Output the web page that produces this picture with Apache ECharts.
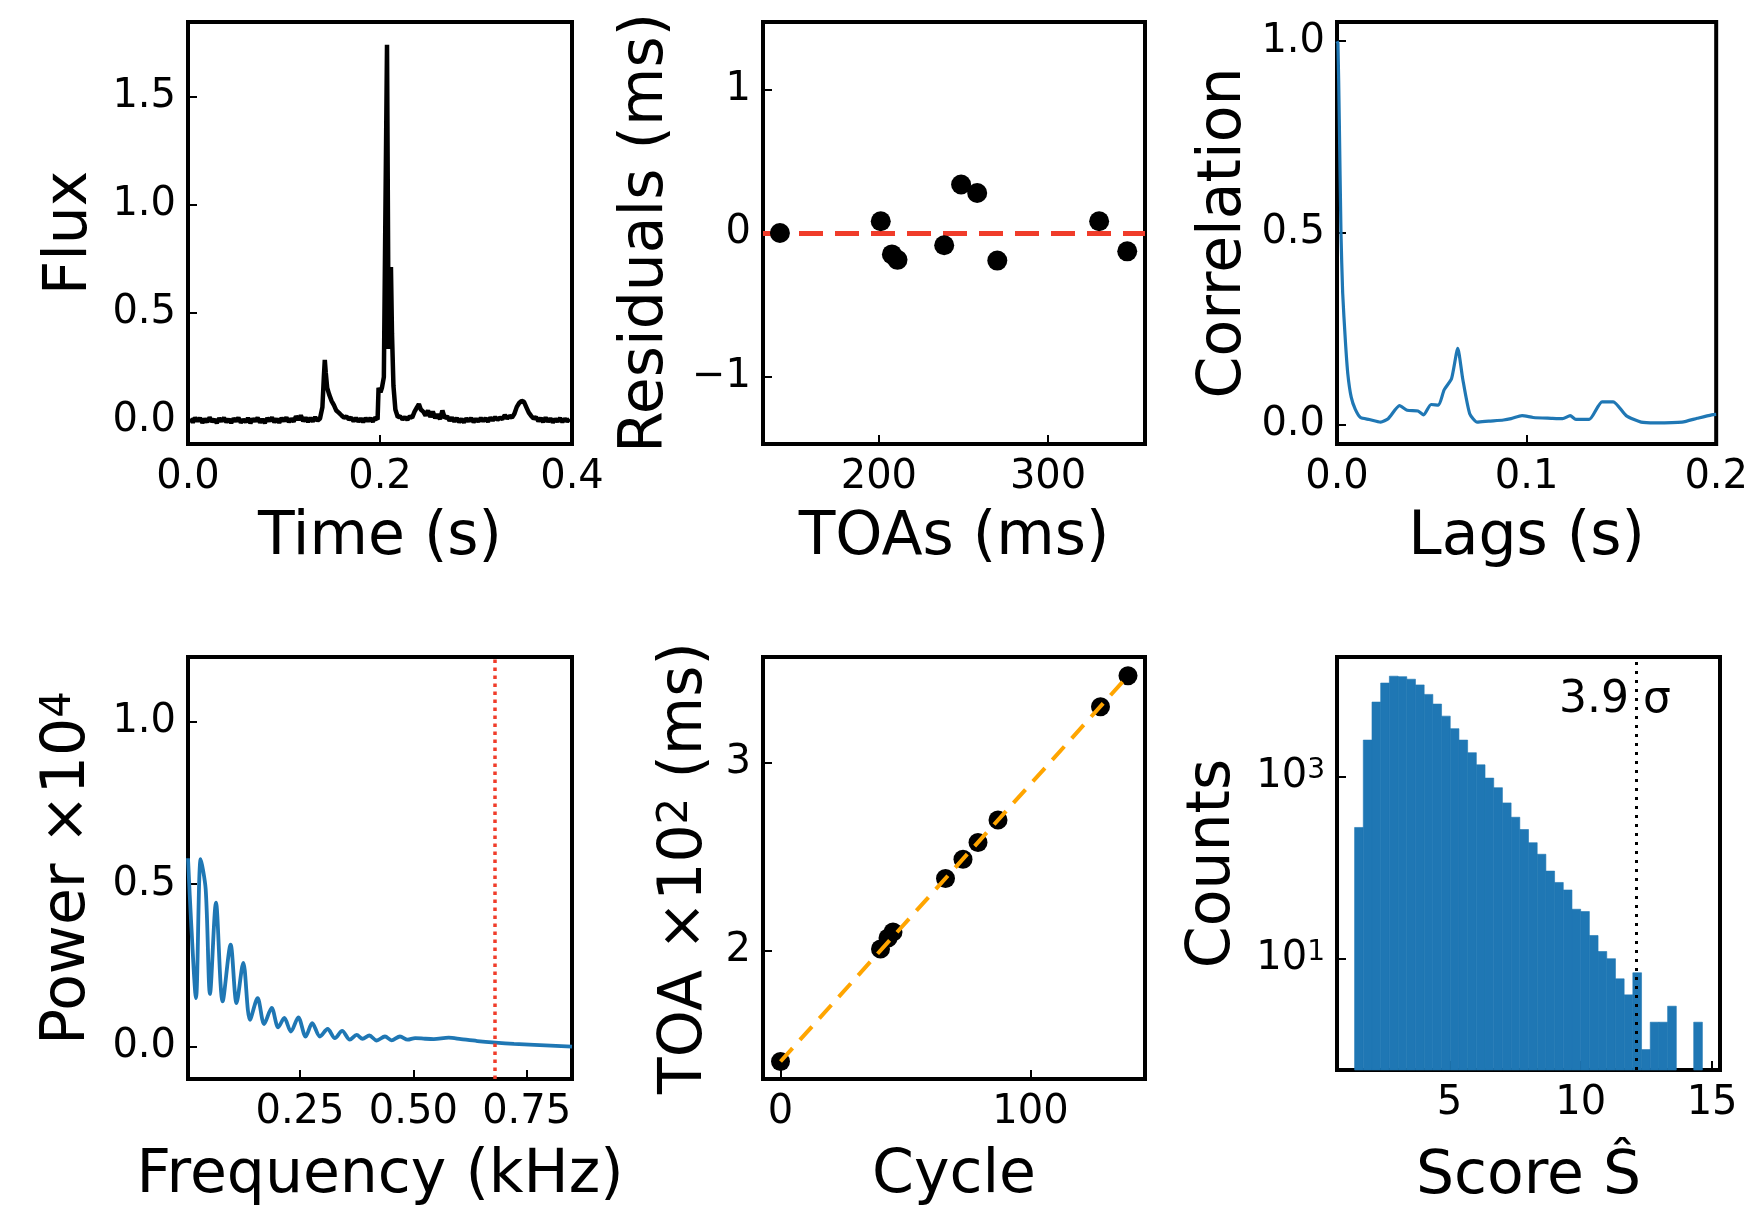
<!DOCTYPE html>
<html>
<head>
<meta charset="utf-8">
<script src="https://cdn.jsdelivr.net/npm/echarts@6/dist/echarts.min.js"></script>
<style>
  html, body { margin: 0; padding: 0; background: #fff; }
  #chart { width: 1751px; height: 1208px; }
</style>
</head>
<body>
<div id="chart"></div>
<script>
// --- burst profile (Flux vs Time) ---
var fluxTime = [0.0025, 0.005, 0.0075, 0.010, 0.0125, 0.015, 0.0175, 0.020, 0.0225, 0.025, 0.0275, 0.030, 0.0325, 0.035, 0.0375, 0.040,
  0.0425, 0.045, 0.0475, 0.050, 0.0525, 0.055, 0.0575, 0.060, 0.0625, 0.065, 0.0675, 0.070, 0.0725, 0.075, 0.0775, 0.080,
  0.0825, 0.085, 0.0875, 0.090, 0.0925, 0.095, 0.0975, 0.100, 0.1025, 0.105, 0.1075, 0.110, 0.1125, 0.115, 0.1175, 0.120,
  0.1225, 0.125, 0.1275, 0.130, 0.1325, 0.135, 0.1375, 0.1400, 0.1415, 0.1425, 0.1435, 0.1450, 0.1470, 0.1495, 0.1520, 0.1545,
  0.1570, 0.1600, 0.1625, 0.165, 0.1675, 0.170, 0.1725, 0.175, 0.1775, 0.180, 0.1825, 0.185, 0.1875, 0.190, 0.1925, 0.195,
  0.1975, 0.1985, 0.2005, 0.2020, 0.2040, 0.2055, 0.2073, 0.2090, 0.2100, 0.2114, 0.2125, 0.2140, 0.2160, 0.2185, 0.221, 0.2235,
  0.226, 0.2285, 0.231, 0.2335, 0.236, 0.2385, 0.2405, 0.2425, 0.245, 0.2475, 0.250, 0.2525, 0.255, 0.2575, 0.260, 0.2625,
  0.265, 0.2675, 0.270, 0.2725, 0.275, 0.2775, 0.280, 0.2825, 0.285, 0.2875, 0.290, 0.2925, 0.295, 0.2975, 0.300, 0.3025,
  0.305, 0.3075, 0.310, 0.3125, 0.315, 0.3175, 0.320, 0.3225, 0.325, 0.3275, 0.330, 0.3325, 0.335, 0.3375, 0.340, 0.3425,
  0.345, 0.3475, 0.350, 0.3525, 0.355, 0.3575, 0.360, 0.3625, 0.365, 0.3675, 0.370, 0.3725, 0.375, 0.3775, 0.380, 0.3825,
  0.385, 0.3875, 0.390, 0.3925, 0.395, 0.3975];
var fluxValue = [0.008, -0.010, 0.012, -0.004, 0.010, -0.012, 0.006, -0.008, 0.013, -0.006, 0.004, -0.013, 0.009, -0.005, 0.011, -0.009,
  0.005, -0.012, 0.008, -0.004, 0.012, -0.010, 0.003, -0.008, 0.010, -0.013, 0.007, -0.005, 0.011, -0.010, 0.004, -0.012,
  0.009, -0.003, 0.012, -0.009, 0.006, -0.011, 0.010, -0.004, 0.013, -0.008, 0.007, -0.006, 0.018, 0.002, 0.022, -0.004,
  0.012, -0.007, 0.010, -0.005, 0.014, -0.002, 0.008, 0.06, 0.20, 0.28, 0.22, 0.15, 0.12, 0.09, 0.07, 0.045,
  0.035, 0.022, 0.012, 0.018, 0.004, 0.012, -0.004, 0.010, -0.006, 0.008, -0.008, 0.010, -0.004, 0.009, -0.006, 0.012,
  0.004, 0.15, 0.13, 0.15, 0.20, 0.90, 1.74, 0.33, 0.45, 0.71, 0.40, 0.16, 0.05, 0.015, 0.018, 0.004,
  0.014, 0.002, 0.018, 0.012, 0.040, 0.060, 0.075, 0.050, 0.040, 0.022, 0.045, 0.015, 0.040, 0.010, 0.028, 0.005,
  0.045, 0.010, 0.018, -0.002, 0.012, -0.006, 0.010, -0.008, 0.006, -0.010, 0.008, -0.004, 0.010, -0.008, 0.006, -0.006,
  0.010, -0.004, 0.009, -0.006, 0.012, 0.000, 0.014, 0.002, 0.012, 0.006, 0.024, 0.008, 0.020, 0.012, 0.030, 0.062,
  0.080, 0.090, 0.085, 0.060, 0.035, 0.020, 0.008, 0.014, -0.004, 0.010, -0.008, 0.012, -0.006, 0.008, -0.010, 0.006,
  -0.006, 0.010, -0.008, 0.007, -0.005, 0.006];

// --- timing residuals ---
var residToa = [141.5, 201.1, 207.7, 211.0, 238.6, 248.6, 258.1, 270.0, 330.2, 346.8];
var residVal = [0.0, 0.082, -0.149, -0.187, -0.085, 0.338, 0.279, -0.192, 0.082, -0.128];

// --- autocorrelation ---
var corrLag = [0, 0.0005, 0.0012, 0.0021, 0.003, 0.0044, 0.0057, 0.0075, 0.0096, 0.0124, 0.017, 0.023, 0.027, 0.033, 0.037,
  0.0427, 0.0457, 0.0496, 0.0535, 0.0565, 0.0604, 0.0637, 0.0663, 0.070, 0.074, 0.080, 0.0878, 0.0918, 0.0976, 0.1035,
  0.113, 0.119, 0.123, 0.126, 0.133, 0.1398, 0.1457, 0.1525, 0.1604, 0.168, 0.182, 0.190, 0.1976, 0.2];
var corrVal = [1.0, 0.994, 0.797, 0.5, 0.343, 0.22, 0.133, 0.072, 0.041, 0.019, 0.014, 0.007, 0.016, 0.05, 0.038,
  0.036, 0.026, 0.053, 0.051, 0.091, 0.12, 0.199, 0.12, 0.029, 0.007, 0.0096, 0.0125, 0.016, 0.024, 0.019,
  0.017, 0.016, 0.024, 0.014, 0.014, 0.06, 0.06, 0.024, 0.007, 0.005, 0.007, 0.017, 0.026, 0.027];

// --- power spectrum ---
var powFreq = [0.003, 0.010, 0.0206, 0.031, 0.042, 0.0515, 0.0647, 0.0794, 0.097, 0.110, 0.125, 0.1397, 0.1566, 0.171, 0.1875,
  0.202, 0.2154, 0.230, 0.2463, 0.2625, 0.277, 0.294, 0.311, 0.327, 0.343, 0.360, 0.375, 0.388, 0.403, 0.419, 0.4375,
  0.452, 0.4706, 0.4875, 0.504, 0.526, 0.545, 0.578, 0.605, 0.641, 0.681, 0.722, 0.767, 0.85];
var powVal = [0.58, 0.38, 0.149, 0.577, 0.485, 0.162, 0.443, 0.139, 0.314, 0.134, 0.258, 0.082, 0.149, 0.069, 0.119,
  0.059, 0.088, 0.046, 0.090, 0.031, 0.072, 0.031, 0.054, 0.026, 0.048, 0.021, 0.036, 0.024, 0.034, 0.0186, 0.031,
  0.019, 0.031, 0.021, 0.026, 0.024, 0.023, 0.0275, 0.023, 0.017, 0.012, 0.008, 0.005, 0.0];
var powCut = 0.68;

// --- TOA vs cycle ---
var toaCycle = [0, 40, 43, 45, 66, 73, 79, 87, 128, 139];
var toaVal = [1.413, 2.010, 2.068, 2.10, 2.384, 2.486, 2.575, 2.695, 3.296, 3.46];
var fitCycle = [0, 139];
var fitToa = [1.413, 3.46];

// --- score histogram ---
var binStart = 1.39;
var binWidth = 0.331;
var scoreCounts = [278, 2545, 6670, 10800, 12850, 12700, 11900, 10300, 8100, 6340, 4670, 3400, 2545, 1850, 1360, 971,
  762, 518, 360, 264, 189, 141, 92, 69, 57, 35, 33, 18, 12, 10, 6, 4, 7, 1, 2, 2, 3, 0, 0, 2];
var sigmaScore = 12.11;

// --- tick values ---
var fluxTicksX = [0, 0.2, 0.4], fluxTicksY = [0, 0.5, 1.0, 1.5];
var residTicksX = [200, 300], residTicksY = [-1, 0, 1];
var corrTicksX = [0, 0.1, 0.2], corrTicksY = [0, 0.5, 1.0];
var powTicksX = [0.25, 0.5, 0.75], powTicksY = [0, 0.5, 1.0];
var toaTicksX = [0, 100], toaTicksY = [2, 3];
var scoreTicksX = [5, 10, 15], scoreTicksY = [10, 1000];

function zip(a, b) { return a.map(function (v, i) { return [v, b[i]]; }); }

var FONT = 'DejaVu Sans';
var BLUE = '#1f77b4';
var NAME_SIZE = 60, TICK_SIZE = 40;

// rich styles for the x10^n style superscripts
var nameRich = {
  n: { fontFamily: FONT, fontSize: NAME_SIZE, color: '#000', lineHeight: NAME_SIZE, verticalAlign: 'bottom' },
  s: { fontFamily: FONT, fontSize: 42, color: '#000', lineHeight: 42, verticalAlign: 'top', padding: [0, 0, 24, 0] }
};
var tickRich = {
  n: { fontFamily: FONT, fontSize: TICK_SIZE, color: '#000', lineHeight: TICK_SIZE, verticalAlign: 'bottom' },
  s: { fontFamily: FONT, fontSize: 28, color: '#000', lineHeight: 28, verticalAlign: 'top', padding: [0, 0, 16, 0] }
};

function fmt(d) {
  return function (v) { return Number(v).toFixed(d).replace('-', '\u2212'); };
}

function axis(grid, min, max, ticks, name, gap, labelFmt, type, margin) {
  return {
    type: type || 'value', gridIndex: grid, min: min, max: max,
    name: name, nameLocation: 'middle', nameGap: gap,
    nameTextStyle: { fontFamily: FONT, fontSize: NAME_SIZE, color: '#000', rich: nameRich },
    axisLine: { show: false, onZero: false },
    axisTick: { show: true, inside: true, length: 9, customValues: ticks,
      lineStyle: { color: '#000', width: 2 } },
    axisLabel: { show: true, fontFamily: FONT, fontSize: TICK_SIZE, color: '#000', margin: margin || 12,
      customValues: ticks, formatter: labelFmt, rich: tickRich },
    splitLine: { show: false }
  };
}
function xAxis(grid, min, max, ticks, name, gap, labelFmt) {
  return axis(grid, min, max, ticks, name, gap, labelFmt, 'value', 14);
}

var boxes = [
  [188, 22, 384], [763, 22, 382], [1337, 22, 383],
  [188, 657, 384], [763, 657, 382], [1337, 657, 383]
];
var grids = boxes.map(function (b) {
  return { left: b[0], top: b[1], width: b[2], height: 422, show: true,
    borderColor: '#000', borderWidth: 4, backgroundColor: 'transparent' };
});

var histData = scoreCounts.map(function (c, i) {
  return [binStart + i * binWidth, binStart + (i + 1) * binWidth, c];
});
var countMin = Math.pow(10, -0.225), countMax = Math.pow(10, 4.32);

var option = {
  animation: false,
  backgroundColor: '#fff',
  grid: grids,
  xAxis: [
    xAxis(0, 0, 0.4, fluxTicksX, 'Time (s)', 64, fmt(1)),
    xAxis(1, 131.5, 357.3, residTicksX, 'TOAs (ms)', 64, fmt(0)),
    xAxis(2, 0, 0.2, corrTicksX, 'Lags (s)', 64, fmt(1)),
    xAxis(3, 0.003, 0.85, powTicksX, 'Frequency (kHz)', 67, fmt(2)),
    xAxis(4, -7, 145.8, toaTicksX, 'Cycle', 67, fmt(0)),
    xAxis(5, 0.72, 15.3, scoreTicksX, 'Score \u015c', 77, fmt(0))
  ],
  yAxis: [
    axis(0, -0.11, 1.845, fluxTicksY, 'Flux', 88, fmt(1)),
    axis(1, -1.47, 1.47, residTicksY, 'Residuals (ms)', 87, fmt(0)),
    axis(2, -0.05, 1.05, corrTicksY, 'Correlation', 83, fmt(1)),
    axis(3, -0.1, 1.2, powTicksY, '{n|Power \u00d710}{s|4}', 90, fmt(1)),
    axis(4, 1.32, 3.56, toaTicksY, '{n|TOA \u00d710}{s|2}{n| (ms)}', 48, fmt(0)),
    axis(5, countMin, countMax, scoreTicksY, 'Counts', 94, function (v) {
      return '{n|10}{s|' + Math.round(Math.log10(v)) + '}';
    }, 'log')
  ],
  series: [
    {
      type: 'line', xAxisIndex: 0, yAxisIndex: 0, data: zip(fluxTime, fluxValue),
      showSymbol: false, lineStyle: { color: '#000', width: 4.5 }
    },
    {
      type: 'scatter', xAxisIndex: 1, yAxisIndex: 1, data: zip(residToa, residVal), z: 3,
      symbolSize: 20, itemStyle: { color: '#000', opacity: 1 },
      markLine: {
        silent: true, symbol: 'none', z: 1, label: { show: false },
        lineStyle: { color: '#f03c2a', width: 5, type: [24, 12] },
        data: [{ yAxis: 0 }]
      }
    },
    {
      type: 'line', xAxisIndex: 2, yAxisIndex: 2, data: zip(corrLag, corrVal),
      showSymbol: false, smooth: 0.2, lineStyle: { color: BLUE, width: 3.2 }
    },
    {
      type: 'line', xAxisIndex: 3, yAxisIndex: 3, data: zip(powFreq, powVal),
      showSymbol: false, smooth: 0.3, lineStyle: { color: BLUE, width: 3.8 },
      markLine: {
        silent: true, symbol: 'none', label: { show: false },
        lineStyle: { color: '#f03c2a', width: 3.5, type: [3.5, 4.5] },
        data: [{ xAxis: powCut }]
      }
    },
    {
      type: 'scatter', xAxisIndex: 4, yAxisIndex: 4, data: zip(toaCycle, toaVal), z: 2,
      symbolSize: 19, itemStyle: { color: '#000', opacity: 1 }
    },
    {
      type: 'line', xAxisIndex: 4, yAxisIndex: 4, data: zip(fitCycle, fitToa), z: 4,
      showSymbol: false, lineStyle: { color: '#ffa500', width: 4, type: [18, 11] }
    },
    {
      type: 'custom', xAxisIndex: 5, yAxisIndex: 5, data: histData,
      encode: { x: [0, 1], y: 2 },
      renderItem: function (params, api) {
        var c = api.value(2);
        if (!(c > 0)) return null;
        var p0 = api.coord([api.value(0), c]);
        var p1 = api.coord([api.value(1), countMin]);
        return {
          type: 'rect',
          shape: { x: p0[0], y: p0[1], width: p1[0] - p0[0], height: p1[1] - p0[1] },
          style: { fill: BLUE, stroke: BLUE, lineWidth: 0.6 }
        };
      }
    },
    {
      type: 'scatter', xAxisIndex: 5, yAxisIndex: 5, data: [[11.3, 6900]], z: 6,
      symbolSize: 1, itemStyle: { color: 'transparent', opacity: 0 },
      label: { show: true, position: 'inside', formatter: '3.9 \u03c3', opacity: 1,
        fontFamily: FONT, fontSize: 44, color: '#000', textBorderWidth: 0 },
      markLine: {
        silent: true, symbol: 'none', label: { show: false },
        lineStyle: { color: '#000', width: 3, type: [3, 6], opacity: 1 },
        data: [{ xAxis: sigmaScore }]
      }
    }
  ]
};

var chart = echarts.init(document.getElementById('chart'), null, { renderer: 'canvas' });
chart.setOption(option);
</script>
</body>
</html>
